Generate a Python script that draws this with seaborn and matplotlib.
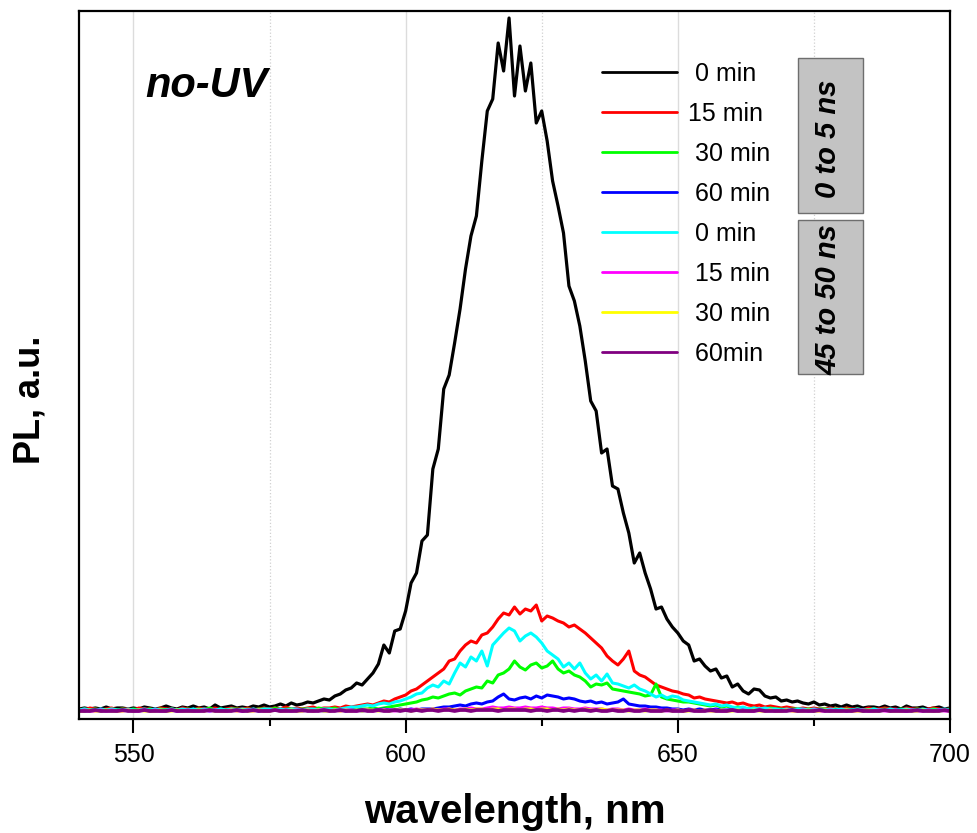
import matplotlib
matplotlib.use("Agg")
import matplotlib.pyplot as plt
from matplotlib.patches import Rectangle
import numpy as np
import pandas as pd
import seaborn as sns

# ---------------- data ----------------
wavelength = list(range(540, 701))  # nm, 1 nm step

black_0min = [
    2, 3, 2, 3, 2, 4, 2, 3, 3, 2,
    3, 2, 4, 3, 2, 3, 5, 3, 2, 4,
    3, 5, 3, 4, 2, 6, 3, 4, 5, 3,
    4, 3, 5, 4, 6, 4, 5, 7, 5, 8,
    6, 7, 9, 8, 10, 12, 11, 15, 17, 21,
    23, 28, 26, 32, 38, 47, 66, 58, 80, 82,
    100, 128, 138, 170, 176, 242, 262, 322, 336, 368,
    402, 442, 475, 495, 550, 600, 612, 668, 640, 693,
    615, 665, 620, 648, 588, 600, 570, 530, 505, 478,
    425, 410, 385, 350, 310, 300, 258, 262, 225, 222,
    198, 178, 148, 158, 138, 122, 102, 104, 92, 84,
    78, 70, 66, 50, 52, 45, 40, 42, 33, 35,
    24, 27, 20, 17, 22, 21, 15, 13, 14, 10,
    11, 9, 10, 8, 7, 9, 6, 7, 5, 6,
    4, 6, 4, 5, 3, 4, 4, 3, 5, 3,
    4, 2, 5, 3, 3, 4, 2, 3, 4, 2, 3,
]
red_15min = [
    2, 1, 3, 2, 1, 2, 3, 1, 2, 2,
    1, 3, 2, 2, 1, 3, 2, 2, 1, 3,
    2, 1, 3, 2, 2, 3, 1, 2, 3, 2,
    2, 3, 1, 2, 3, 2, 3, 2, 4, 2,
    3, 2, 3, 4, 2, 3, 3, 4, 3, 5,
    4, 5, 6, 7, 6, 8, 10, 9, 12, 14,
    16, 20, 22, 26, 30, 34, 38, 42, 50, 52,
    60, 66, 70, 68, 76, 78, 84, 92, 98, 96,
    104, 97, 102, 100, 106, 90, 95, 93, 90, 88,
    84, 86, 82, 78, 73, 68, 63, 55, 50, 46,
    52, 60, 40, 36, 34, 30, 26, 24, 22, 20,
    19, 17, 16, 13, 14, 12, 11, 10, 9, 8,
    9, 7, 8, 6, 5, 6, 4, 5, 4, 3,
    4, 3, 2, 3, 2, 3, 2, 2, 3, 2,
    2, 3, 2, 2, 1, 3, 2, 2, 3, 2,
    2, 1, 3, 2, 2, 1, 2, 3, 2, 1, 2,
]
green_30min = [
    1, 2, 1, 2, 1, 1, 2, 1, 2, 1,
    2, 1, 1, 2, 1, 2, 1, 2, 1, 1,
    2, 1, 2, 1, 3, 1, 2, 1, 2, 2,
    1, 2, 1, 2, 2, 1, 3, 1, 2, 2,
    1, 2, 2, 1, 3, 2, 2, 3, 1, 2,
    2, 3, 2, 2, 3, 2, 3, 4, 5, 6,
    7, 8, 9, 11, 12, 14, 13, 15, 17, 18,
    16, 20, 22, 24, 23, 30, 28, 36, 38, 42,
    50, 44, 41, 46, 48, 43, 45, 50, 42, 38,
    40, 36, 34, 30, 24, 27, 26, 28, 22, 21,
    20, 19, 18, 17, 15, 16, 27, 14, 12, 11,
    10, 9, 9, 8, 7, 6, 5, 6, 4, 5,
    3, 4, 3, 2, 3, 2, 2, 3, 2, 2,
    1, 2, 2, 1, 2, 1, 2, 2, 1, 2,
    1, 2, 1, 2, 1, 1, 2, 1, 2, 1,
    1, 2, 1, 1, 2, 1, 1, 2, 1, 1, 2,
]
blue_60min = [
    1, 0, 1, 1, 0, 1, 1, 0, 1, 1,
    0, 1, 1, 0, 1, 1, 0, 1, 0, 1,
    1, 0, 1, 1, 0, 1, 1, 0, 1, 1,
    0, 1, 1, 0, 1, 1, 1, 0, 1, 1,
    1, 0, 1, 1, 1, 0, 1, 1, 1, 0,
    1, 1, 0, 1, 1, 1, 2, 1, 1, 2,
    1, 2, 1, 2, 2, 2, 3, 4, 4, 5,
    6, 5, 7, 8, 7, 9, 10, 14, 17, 12,
    11, 13, 14, 12, 15, 13, 16, 15, 14, 12,
    13, 12, 10, 9, 10, 8, 9, 7, 8, 9,
    12, 7, 6, 5, 5, 4, 4, 3, 3, 2,
    2, 1, 2, 1, 2, 1, 1, 2, 1, 1,
    1, 2, 1, 1, 1, 2, 1, 1, 0, 1,
    1, 1, 0, 1, 1, 0, 1, 1, 0, 1,
    1, 0, 1, 1, 0, 1, 1, 0, 1, 0,
    1, 1, 0, 1, 0, 1, 1, 0, 1, 1, 0,
]
cyan_0min = [
    1, 2, 1, 1, 2, 1, 2, 1, 1, 2,
    1, 1, 2, 1, 2, 1, 1, 2, 1, 2,
    1, 2, 1, 2, 1, 1, 2, 1, 2, 1,
    2, 1, 2, 1, 2, 2, 1, 2, 1, 2,
    2, 1, 2, 2, 1, 2, 2, 1, 2, 3,
    4, 4, 5, 6, 5, 7, 8, 7, 9, 10,
    12, 14, 17, 18, 23, 26, 24, 30, 27, 38,
    48, 44, 54, 50, 60, 45, 66, 72, 78, 83,
    80, 70, 75, 78, 74, 68, 60, 56, 52, 44,
    48, 42, 48, 38, 32, 36, 30, 37, 28, 27,
    25, 23, 26, 22, 20, 17, 14, 16, 13, 15,
    14, 11, 10, 9, 8, 7, 6, 7, 5, 6,
    4, 3, 4, 2, 3, 2, 3, 2, 2, 1,
    2, 1, 2, 2, 1, 2, 1, 1, 2, 1,
    2, 1, 1, 2, 1, 1, 2, 1, 1, 2,
    1, 1, 2, 1, 1, 2, 1, 1, 1, 2, 1,
]
magenta_15min = [
    0, 1, 0, 0, 1, 0, 1, 0, 0, 1,
    0, 0, 1, 0, 1, 0, 0, 1, 0, 0,
    1, 0, 0, 1, 0, 1, 0, 0, 1, 0,
    0, 1, 0, 1, 0, 0, 1, 0, 1, 0,
    1, 0, 1, 0, 1, 1, 0, 1, 0, 1,
    1, 0, 1, 1, 0, 1, 1, 1, 0, 1,
    1, 1, 2, 1, 1, 2, 1, 2, 2, 1,
    2, 2, 3, 2, 2, 3, 4, 3, 3, 4,
    3, 3, 4, 3, 3, 4, 3, 3, 2, 3,
    3, 2, 2, 3, 2, 2, 2, 1, 2, 2,
    1, 2, 1, 1, 2, 1, 1, 1, 0, 1,
    1, 0, 1, 1, 0, 1, 0, 1, 0, 0,
    1, 0, 1, 0, 0, 1, 0, 1, 0, 0,
    1, 0, 0, 1, 0, 1, 0, 0, 1, 0,
    0, 1, 0, 0, 1, 0, 0, 1, 0, 0,
    1, 0, 0, 1, 0, 0, 1, 0, 1, 0, 0,
]
yellow_30min = [
    0, 0, 1, 0, 0, 1, 0, 0, 0, 1,
    0, 1, 0, 0, 0, 1, 0, 0, 1, 0,
    0, 0, 1, 0, 1, 0, 0, 0, 1, 0,
    1, 0, 0, 1, 0, 0, 1, 0, 0, 1,
    0, 0, 1, 0, 1, 0, 0, 1, 0, 1,
    0, 1, 0, 1, 1, 0, 1, 0, 1, 1,
    1, 0, 1, 1, 1, 2, 1, 1, 2, 1,
    1, 2, 1, 2, 2, 1, 2, 2, 1, 2,
    2, 1, 2, 2, 1, 2, 2, 1, 2, 1,
    2, 1, 1, 2, 1, 1, 2, 1, 1, 1,
    1, 0, 1, 1, 0, 1, 1, 0, 1, 0,
    1, 0, 0, 1, 0, 1, 0, 0, 1, 0,
    0, 1, 0, 0, 1, 0, 0, 1, 0, 0,
    1, 0, 0, 0, 1, 0, 0, 1, 0, 0,
    0, 1, 0, 0, 0, 1, 0, 0, 1, 0,
    0, 0, 1, 0, 0, 1, 0, 0, 0, 1, 0,
]
purple_60min = [
    0, 0, 0, 1, 0, 0, 0, 0, 1, 0,
    0, 0, 1, 0, 0, 0, 0, 1, 0, 0,
    0, 0, 0, 0, 1, 0, 0, 0, 0, 1,
    0, 0, 1, 0, 0, 0, 1, 0, 0, 0,
    0, 1, 0, 0, 0, 1, 0, 0, 1, 0,
    0, 0, 1, 0, 0, 1, 0, 0, 1, 0,
    1, 0, 1, 0, 1, 1, 0, 1, 1, 0,
    1, 1, 0, 1, 1, 1, 1, 0, 1, 1,
    1, 1, 1, 0, 1, 1, 0, 1, 1, 0,
    1, 0, 1, 1, 0, 1, 0, 0, 1, 0,
    0, 1, 0, 0, 1, 0, 0, 0, 1, 0,
    0, 0, 1, 0, 0, 0, 1, 0, 0, 0,
    1, 0, 0, 0, 0, 1, 0, 0, 0, 0,
    0, 1, 0, 0, 0, 0, 1, 0, 0, 0,
    0, 0, 0, 1, 0, 0, 0, 0, 1, 0,
    0, 0, 0, 0, 1, 0, 0, 0, 0, 1, 0,
]

series_values = [black_0min, red_15min, green_30min, blue_60min,
                 cyan_0min, magenta_15min, yellow_30min, purple_60min]
series_labels = [" 0 min", "15 min", " 30 min", " 60 min",
                 " 0 min", " 15 min", " 30 min", " 60min"]
series_colors = ["#000000", "#ff0000", "#00ff00", "#0000ff",
                 "#00ffff", "#ff00ff", "#ffff00", "#800080"]
series_widths = [2.3, 2.2, 2.2, 2.2, 2.2, 2.2, 2.2, 2.7]
group_labels = ["0 to 5 ns", "45 to 50 ns"]
x_ticks = [550, 600, 650, 700]
x_minor_ticks = [575, 625, 675]

# ---------------- style ----------------
sns.set_theme(style="white")
plt.rcParams["font.family"] = ["Liberation Sans", "DejaVu Sans"]
plt.rcParams["text.color"] = "black"
plt.rcParams["axes.labelcolor"] = "black"
plt.rcParams["xtick.color"] = "black"
plt.rcParams["xtick.labelcolor"] = "black"

W, H = 977, 833
fig = plt.figure(figsize=(W / 100, H / 100), dpi=100)
L, R, T, B = 79, 950, 11, 719
ax = fig.add_axes([L / W, 1 - B / H, (R - L) / W, (B - T) / H])

for vals, lab, col, lw in zip(series_values, series_labels, series_colors,
                              series_widths):
    df = pd.DataFrame({"wavelength": wavelength, "PL": vals})
    sns.lineplot(data=df, x="wavelength", y="PL", color=col, label=lab,
                 linewidth=lw, estimator=None, ax=ax)

ax.set_xlim(540, 700)
ax.set_ylim(-8, 700)
ax.set_xticks(x_ticks)
ax.set_xticks(x_minor_ticks, minor=True)
ax.set_yticks([])
ax.set_xlabel("")
ax.set_ylabel("")

ax.grid(False)
ax.xaxis.grid(True, which="major", color="#dcdcdc", linewidth=1.0, linestyle="-")
ax.xaxis.grid(True, which="minor", color="#d0d0d0", linewidth=0.9, linestyle=":")
ax.set_axisbelow(True)

for sp in ax.spines.values():
    sp.set_color("black")
    sp.set_linewidth(1.6)

ax.tick_params(axis="x", which="major", direction="out", length=10, width=1.5,
               color="black", labelcolor="black", labelsize=18, pad=7,
               bottom=True, top=False)
ax.tick_params(axis="x", which="minor", direction="out", length=5, width=1.5,
               color="black", bottom=True, top=False)

# legend
leg = ax.legend(loc="upper left", bbox_to_anchor=(602 / W, 1 - 62 / H),
                bbox_transform=fig.transFigure, frameon=False, fontsize=18,
                handlelength=3.0, handletextpad=0.45, labelspacing=0.64,
                borderpad=0, borderaxespad=0)
for line in leg.get_lines():
    line.set_linewidth(2.0)
for t in leg.get_texts():
    t.set_color("black")

# group boxes
boxes = [(798, 58, 863, 213), (798, 220, 863, 374)]
for (x0, y0, x1, y1), txt in zip(boxes, group_labels):
    rect = Rectangle((x0 / W, 1 - y1 / H), (x1 - x0) / W, (y1 - y0) / H,
                     transform=fig.transFigure, facecolor="#c3c3c3",
                     edgecolor="#6e6e6e", linewidth=1.0, zorder=20)
    fig.patches.append(rect)
    fig.text(828 / W, 1 - ((y0 + y1) / 2 + 3) / H, txt, rotation=90,
             ha="center", va="center", fontsize=21, fontweight="bold",
             fontstyle="italic", color="black", zorder=21)

# annotations
fig.text(145 / W, 1 - 97 / H, "no-UV", ha="left", va="baseline",
         fontsize=30, fontweight="bold", fontstyle="italic", color="black")
fig.text(515 / W, 1 - 823 / H, "wavelength, nm", ha="center", va="baseline",
         fontsize=29, fontweight="bold", color="black")
fig.text(30 / W, 1 - 400 / H, "PL, a.u.", rotation=90, ha="center",
         va="center", fontsize=26, fontweight="bold", color="black")

fig.savefig("out.png", dpi=100)
